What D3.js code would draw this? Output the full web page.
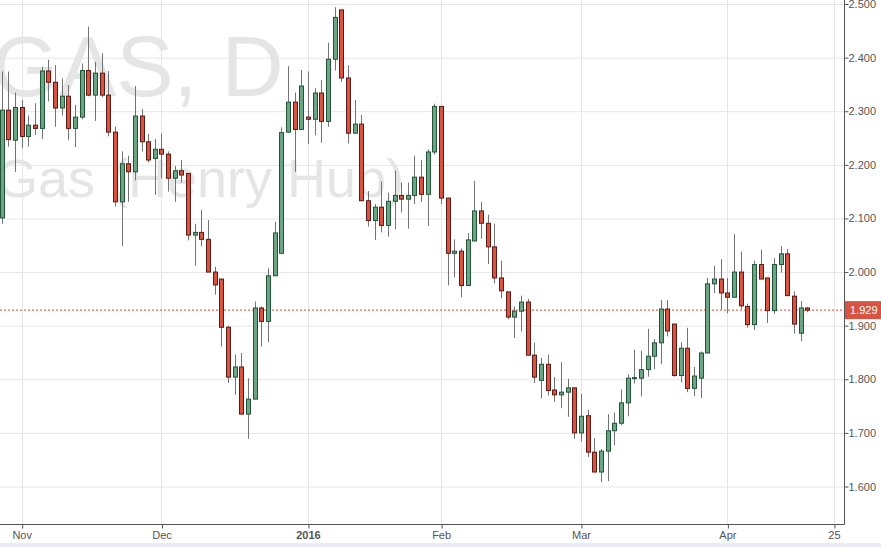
<!DOCTYPE html>
<html><head><meta charset="utf-8">
<script src="https://cdn.jsdelivr.net/npm/d3@7"></script>
<style>body{margin:0;background:#fff;}svg{display:block;font-family:Arial,"Liberation Sans",sans-serif;}</style>
</head><body>
<svg id="c" width="881" height="547"></svg>
<script>
// open, high, low, close per trading day (index 0 = late Oct 2015)
const opens  = [2.101,2.302,2.246,2.307,2.253,2.274,2.268,2.375,2.354,2.306,2.328,2.268,2.289,2.376,2.330,2.371,2.330,2.261,2.131,2.202,2.187,2.291,2.243,2.212,2.229,2.220,2.175,2.189,2.184,2.069,2.074,2.061,2.000,1.987,1.897,1.804,1.823,1.735,1.763,1.933,1.908,1.993,2.035,2.261,2.317,2.266,2.289,2.285,2.334,2.281,2.397,2.489,2.362,2.259,2.276,2.133,2.096,2.121,2.087,2.132,2.143,2.136,2.143,2.177,2.145,2.224,2.309,2.138,2.035,2.039,1.975,2.058,2.114,2.091,2.047,1.989,1.963,1.916,1.927,1.944,1.845,1.798,1.828,1.780,1.771,1.776,1.784,1.700,1.732,1.664,1.627,1.666,1.704,1.718,1.756,1.802,1.802,1.818,1.843,1.868,1.931,1.903,1.807,1.858,1.783,1.802,1.849,1.978,1.987,1.961,1.953,2.000,1.936,1.902,2.014,1.989,1.928,2.014,2.034,1.955,1.886,1.933];
const highs  = [2.374,2.374,2.335,2.321,2.292,2.315,2.383,2.396,2.386,2.361,2.349,2.312,2.389,2.458,2.392,2.408,2.375,2.271,2.225,2.217,2.347,2.304,2.258,2.248,2.258,2.225,2.198,2.209,2.184,2.090,2.116,2.097,2.010,1.987,1.900,1.846,1.849,1.802,1.945,1.936,2.007,2.094,2.270,2.384,2.335,2.377,2.374,2.343,2.358,2.428,2.494,2.489,2.386,2.321,2.293,2.151,2.127,2.169,2.148,2.189,2.167,2.167,2.217,2.209,2.229,2.314,2.309,2.138,2.061,2.044,2.073,2.170,2.131,2.107,2.090,2.021,1.963,1.936,1.956,1.950,1.868,1.840,1.846,1.804,1.832,1.801,1.784,1.773,1.743,1.690,1.670,1.735,1.738,1.781,1.809,1.855,1.853,1.894,1.875,1.948,1.948,1.903,1.869,1.896,1.823,1.852,1.989,2.012,2.024,1.989,2.071,2.038,1.941,2.021,2.042,1.989,2.026,2.048,2.043,1.964,1.946,1.935];
const lows   = [2.090,2.234,2.187,2.231,2.234,2.256,2.248,2.318,2.271,2.292,2.246,2.233,2.285,2.328,2.282,2.326,2.253,2.122,2.049,2.131,2.171,2.225,2.204,2.144,2.175,2.150,2.131,2.167,2.059,2.012,2.048,2.000,1.958,1.861,1.793,1.771,1.735,1.689,1.763,1.861,1.869,1.993,2.035,2.260,2.187,2.266,2.239,2.255,2.241,2.271,2.376,2.355,2.240,2.259,2.133,2.085,2.060,2.074,2.066,2.080,2.111,2.081,2.127,2.131,2.086,2.219,2.127,1.975,1.990,1.953,1.975,2.058,2.062,2.015,1.979,1.951,1.912,1.877,1.889,1.845,1.793,1.764,1.770,1.758,1.746,1.730,1.689,1.684,1.655,1.627,1.608,1.610,1.677,1.714,1.731,1.792,1.768,1.805,1.819,1.828,1.880,1.805,1.794,1.776,1.769,1.765,1.849,1.961,1.930,1.923,1.953,1.931,1.896,1.892,1.987,1.905,1.922,1.999,1.956,1.885,1.871,1.925];
const closes = [2.302,2.247,2.307,2.253,2.274,2.268,2.375,2.354,2.306,2.328,2.268,2.289,2.376,2.330,2.371,2.330,2.261,2.131,2.202,2.187,2.291,2.243,2.209,2.229,2.220,2.175,2.189,2.181,2.069,2.074,2.061,2.000,1.976,1.897,1.804,1.823,1.735,1.763,1.933,1.908,1.993,2.073,2.260,2.317,2.266,2.347,2.285,2.334,2.281,2.397,2.475,2.362,2.259,2.276,2.133,2.096,2.121,2.087,2.132,2.143,2.136,2.143,2.177,2.145,2.224,2.309,2.138,2.035,2.039,1.975,2.060,2.114,2.091,2.047,1.989,1.965,1.916,1.927,1.944,1.845,1.804,1.828,1.779,1.771,1.776,1.784,1.700,1.731,1.664,1.627,1.666,1.704,1.718,1.756,1.802,1.803,1.818,1.843,1.868,1.931,1.890,1.807,1.858,1.783,1.806,1.849,1.978,1.987,1.961,1.953,2.000,1.937,1.902,2.014,1.987,1.928,2.014,2.034,1.956,1.903,1.933,1.929];
const xTickIndex  = [3,24,46,66,87,109,125];
const xTickLabels = ["Nov","Dec","2016","Feb","Mar","Apr","25"];
const yTicks = [1.6,1.7,1.8,1.9,2.0,2.1,2.2,2.3,2.4,2.5];
const lastPrice = 1.929;

const svg = d3.select("#c");
const W = 844, B = 524;
const x = d3.scaleLinear().domain([0,121]).range([1.7,807.3]);
const y = d3.scaleLinear().domain([1.6,2.5]).range([486.5,4]);

svg.append("rect").attr("x",0).attr("y",543).attr("width",881).attr("height",4).attr("fill","#e9ecf0");
const g = svg.append("g");
const clip = svg.append("clipPath").attr("id","pc").append("rect").attr("width",W).attr("height",B);
// grid
g.selectAll(".hg").data(yTicks).join("line").attr("x1",0).attr("x2",W)
 .attr("y1",d=>y(d)+0.5).attr("y2",d=>y(d)+0.5).attr("stroke","#e6e6e6");
g.selectAll(".vg").data(xTickIndex).join("line").attr("y1",0).attr("y2",B)
 .attr("x1",d=>Math.round(x(d))+0.5).attr("x2",d=>Math.round(x(d))+0.5).attr("stroke","#e6e6e6");
// watermark
const wm = svg.append("g").attr("clip-path","url(#pc)").attr("fill","#e5e5e5");
wm.append("text").attr("x",-8).attr("y",96).attr("font-size",86).text("GAS, D");
wm.append("text").attr("x",-4).attr("y",197).attr("font-size",54).text("Gas (Henry Hub)");
// price line
svg.append("line").attr("x1",0).attr("x2",W).attr("y1",y(lastPrice)).attr("y2",y(lastPrice))
 .attr("stroke","#e0452c").attr("stroke-dasharray","2,2");
// candles
const idx = d3.range(opens.length);
const cg = svg.append("g").attr("clip-path","url(#pc)");
cg.selectAll(".w").data(idx).join("line")
 .attr("x1",i=>Math.round(x(i))+0.5).attr("x2",i=>Math.round(x(i))+0.5)
 .attr("y1",i=>y(highs[i])).attr("y2",i=>y(lows[i])).attr("stroke","#737375");
cg.selectAll(".b").data(idx).join("rect")
 .attr("x",i=>Math.round(x(i))-1.5).attr("width",4)
 .attr("y",i=>y(Math.max(opens[i],closes[i])))
 .attr("height",i=>Math.max(1,Math.abs(y(opens[i])-y(closes[i]))))
 .attr("fill",i=>closes[i]>=opens[i]?"#6ba583":"#d75442")
 .attr("stroke",i=>closes[i]>=opens[i]?"#225437":"#5b1a13").attr("stroke-width",1);
// axes
const ya = svg.append("g").attr("transform",`translate(${W+0.5},0)`)
 .call(d3.axisRight(y).tickValues(yTicks).tickFormat(d3.format(".3f")).tickSize(4).tickSizeOuter(0));
ya.select(".domain").attr("stroke","#555").attr("d",`M0,0V${B+0.5}`);
ya.selectAll("text").attr("fill","#555").attr("font-size",11).attr("font-family","Arial,Liberation Sans").attr("x",4);
ya.selectAll(".tick line").attr("stroke","#555");
const xa = svg.append("g").attr("transform",`translate(0,${B+0.5})`)
 .call(d3.axisBottom(x).tickValues(xTickIndex).tickFormat((d,i)=>xTickLabels[i]).tickSize(4).tickSizeOuter(0));
xa.select(".domain").attr("stroke","#555").attr("d",`M0,0H${W+0.5}`);
xa.selectAll(".tick line").attr("stroke","#555").attr("transform","translate(0.5,0)");
xa.selectAll("text").attr("fill","#555").attr("font-size",11).attr("font-family","Arial,Liberation Sans")
 .attr("font-weight",(d,i)=>xTickLabels[i]==="2016"?"bold":"normal");
// last price label
svg.append("rect").attr("x",W+1).attr("y",y(lastPrice)-9).attr("width",37).attr("height",18).attr("fill","#d75442");
svg.append("text").attr("x",W+6).attr("y",y(lastPrice)+4).attr("fill","#fff").attr("font-size",11).text(lastPrice.toFixed(3));
</script></body></html>
